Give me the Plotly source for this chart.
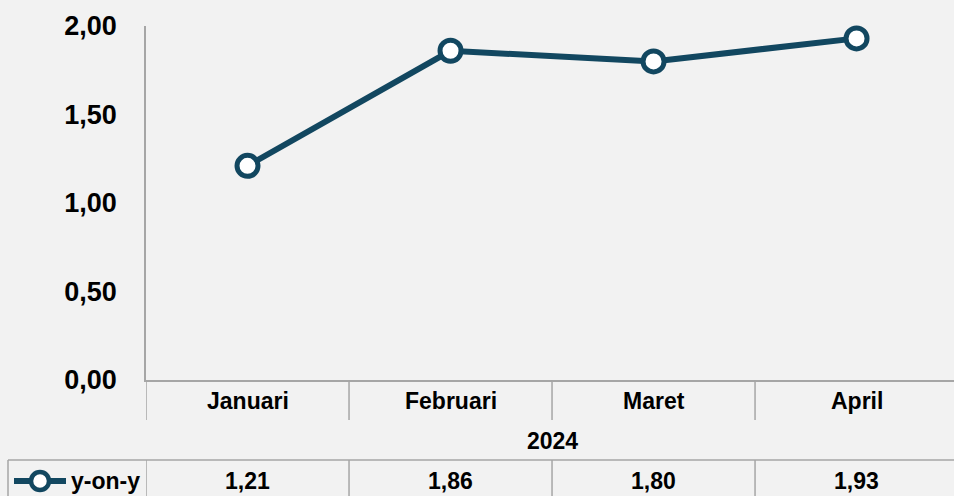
import plotly.graph_objects as go

months = ["Januari", "Februari", "Maret", "April"]
yoy = [1.21, 1.86, 1.80, 1.93]
year = "2024"
series_name = "y-on-y"

LINE = "#124760"
GRID = "#A6A6A6"
BG = "#F2F2F2"
FONT = "Liberation Sans Narrow, Arial Narrow, Liberation Sans, Arial"

W, H = 954, 496
L, R, T, B = 146, 954, 26, 380


def py(p):
    # pixel row -> paper y
    return (B - p) / (B - T)


def px(p):
    return (p - L) / (R - L)


fig = go.Figure()
fig.add_trace(go.Scatter(
    x=list(range(len(months))), y=yoy, mode="lines+markers", name=series_name,
    line=dict(color=LINE, width=6),
    marker=dict(symbol="circle", size=21, color="white", line=dict(color=LINE, width=5)),
    showlegend=False, cliponaxis=False,
))

shapes = []
# category dividers under the axis
for i in range(len(months) + 1):
    shapes.append(dict(type="line", xref="x", yref="paper", x0=i - 0.5, x1=i - 0.5,
                       y0=0, y1=py(420), line=dict(color=GRID, width=1.5)))
# table row
shapes.append(dict(type="line", xref="paper", yref="paper", x0=px(8), x1=1.02,
                   y0=py(460), y1=py(460), line=dict(color=GRID, width=1.5)))
shapes.append(dict(type="line", xref="paper", yref="paper", x0=px(8), x1=px(8),
                   y0=py(460), y1=py(500), line=dict(color=GRID, width=1.5)))
for i in range(len(months)):
    shapes.append(dict(type="line", xref="x", yref="paper", x0=i - 0.5, x1=i - 0.5,
                       y0=py(460), y1=py(500), line=dict(color=GRID, width=1.5)))
# legend key in table
shapes.append(dict(type="line", xref="paper", yref="paper", x0=px(14), x1=px(66),
                   y0=py(481), y1=py(481), line=dict(color=LINE, width=6)))
shapes.append(dict(type="circle", xref="paper", yref="paper", x0=px(31), x1=px(49),
                   y0=py(472), y1=py(490), fillcolor="white", line=dict(color=LINE, width=4.5)))

txt = dict(size=23, color="black", family=FONT, weight="bold")
ann = []
for i, m in enumerate(months):
    ann.append(dict(x=i, y=py(401), xref="x", yref="paper", text=m, showarrow=False,
                    xanchor="center", yanchor="middle", font=txt))
    ann.append(dict(x=i, y=py(481), xref="x", yref="paper",
                    text=f"{yoy[i]:.2f}".replace(".", ","), showarrow=False,
                    xanchor="center", yanchor="middle", font=txt))
ann.append(dict(x=1.5, y=py(441), xref="x", yref="paper", text=year, showarrow=False,
                xanchor="center", yanchor="middle", font=txt))
ann.append(dict(x=px(105), y=py(481), xref="paper", yref="paper", text=series_name,
                showarrow=False, xanchor="center", yanchor="middle", font=txt))

fig.update_layout(
    width=W, height=H, paper_bgcolor=BG, plot_bgcolor=BG,
    margin=dict(l=L, r=W - R, t=T, b=H - B, pad=0),
    separators=",.", shapes=shapes, annotations=ann,
    font=dict(family=FONT, color="black"),
)
fig.update_xaxes(range=[-0.5, 3.48], showticklabels=False, showgrid=False, zeroline=False,
                 showline=True, linecolor=GRID, linewidth=1.5, ticks="")
fig.update_yaxes(range=[0, 2], tickvals=[0, 0.5, 1, 1.5, 2], tickformat=".2f", showgrid=False,
                 zeroline=False, showline=True, linecolor=GRID, linewidth=1.5, ticks="",
                 ticklabelstandoff=22,
                 tickfont=dict(size=27, family=FONT, color="black", weight="bold"))

fig.write_html("out.html", config={"displayModeBar": False},
               post_script="document.body.style.margin='0';")
